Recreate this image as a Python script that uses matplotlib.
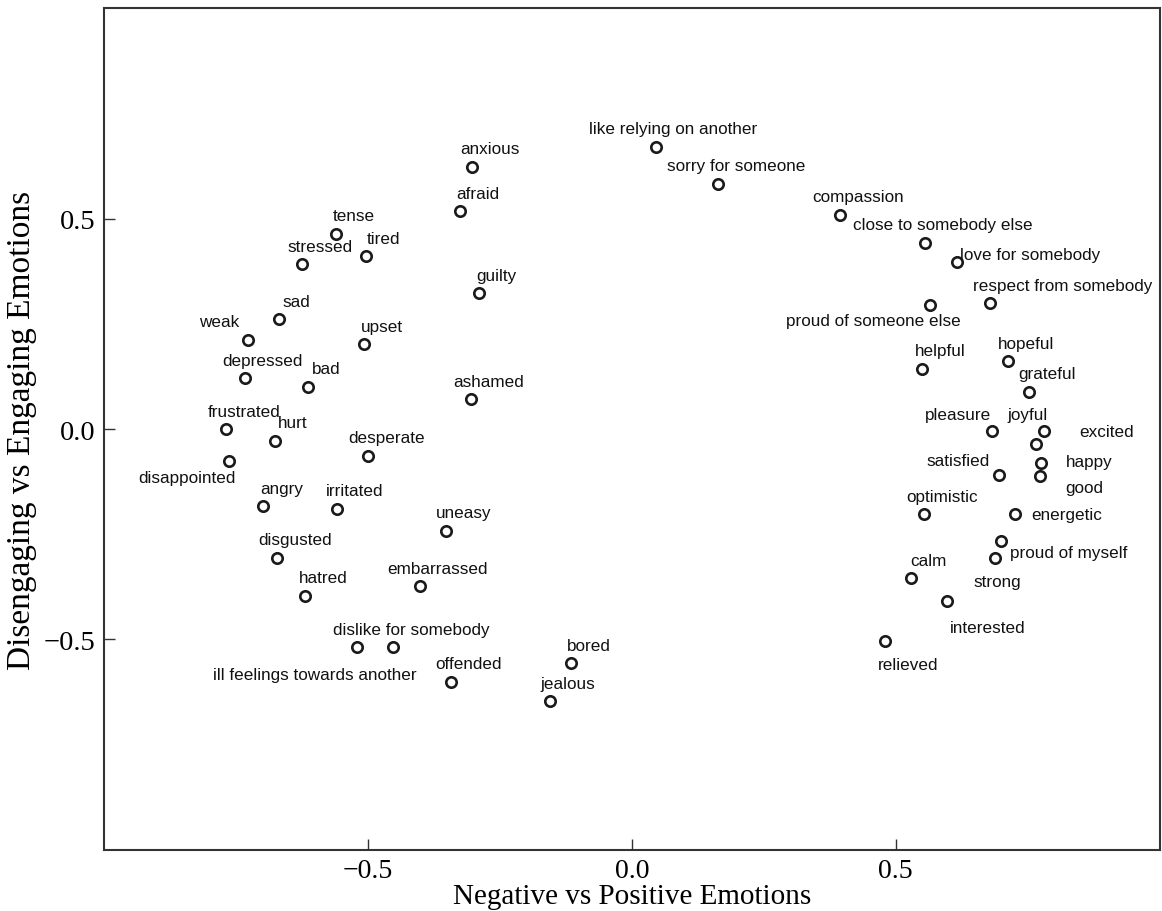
import matplotlib.pyplot as plt

emotions = [
    "anxious", "afraid", "tense", "tired", "stressed", "guilty", "sad", "weak",
    "upset", "depressed", "bad", "ashamed", "frustrated", "hurt", "disappointed",
    "desperate", "angry", "irritated", "uneasy", "disgusted", "hatred",
    "embarrassed", "ill feelings towards another", "dislike for somebody",
    "offended", "bored", "jealous", "like relying on another", "sorry for someone",
    "compassion", "close to somebody else", "love for somebody",
    "respect from somebody", "proud of someone else", "helpful", "hopeful",
    "grateful", "pleasure", "joyful", "excited", "happy", "good", "satisfied",
    "optimistic", "energetic", "proud of myself", "strong", "calm", "interested",
    "relieved",
]

# negative (-) vs positive (+)
valence = [
    -0.303, -0.326, -0.561, -0.504, -0.625, -0.290, -0.669, -0.727,
    -0.508, -0.733, -0.614, -0.305, -0.768, -0.676, -0.764,
    -0.499, -0.698, -0.559, -0.352, -0.672, -0.619,
    -0.402, -0.520, -0.452,
    -0.343, -0.116, -0.155, 0.045, 0.163,
    0.394, 0.555, 0.616,
    0.679, 0.565, 0.550, 0.712,
    0.752, 0.683, 0.780, 0.765, 0.775, 0.773, 0.695,
    0.553, 0.725, 0.700, 0.688, 0.528, 0.598,
    0.480,
]

# disengaging (-) vs engaging (+)
engagement = [
    0.623, 0.517, 0.464, 0.410, 0.391, 0.322, 0.261, 0.211,
    0.201, 0.121, 0.100, 0.071, 0.000, -0.028, -0.075,
    -0.064, -0.184, -0.189, -0.242, -0.306, -0.396,
    -0.373, -0.518, -0.518,
    -0.600, -0.557, -0.647, 0.671, 0.583,
    0.509, 0.443, 0.396,
    0.300, 0.294, 0.143, 0.161,
    0.088, -0.005, -0.005, -0.036, -0.081, -0.111, -0.109,
    -0.203, -0.201, -0.265, -0.306, -0.355, -0.409,
    -0.504,
]

# label placement (pixels from the point); everything else sits up-right
default_offset = (18, 18)
label_offsets = {
    "weak": (-29, 19),
    "disappointed": (-42, -17),
    "ill feelings towards another": (-43, -27),
    "love for somebody": (73, 8),
    "respect from somebody": (72, 17),
    "proud of someone else": (-57, -15),
    "pleasure": (-34, 17),
    "joyful": (-16, 17),
    "excited": (71, 13),
    "happy": (48, 2),
    "good": (44, -12),
    "satisfied": (-41, 14),
    "energetic": (52, -1),
    "proud of myself": (67, -12),
    "strong": (2, -24),
    "interested": (40, -26),
    "relieved": (23, -23),
}

fig = plt.figure(figsize=(11.62, 9.12), dpi=100)
ax = fig.add_axes([0.0895, 0.0669, 0.9085, 0.9232])

ax.plot(valence, engagement, "o", markersize=7.5, markerfacecolor="white",
        markeredgecolor="#1a1a1a", markeredgewidth=1.9, linestyle="none")

for name, x, y in zip(emotions, valence, engagement):
    dx, dy = label_offsets.get(name, default_offset)
    ax.annotate(name, (x, y), xytext=(dx, dy), textcoords="offset pixels",
                ha="center", va="center", fontsize=12.3,
                family="Liberation Sans", color="#111111")

ax.set_xlim(-1, 1)
ax.set_ylim(-1, 1)
ax.set_xticks([-0.5, 0.0, 0.5])
ax.set_yticks([-0.5, 0.0, 0.5])
ax.set_xticklabels(["\u22120.5", "0.0", "0.5"], family="Liberation Serif", fontsize=20)
ax.set_yticklabels(["\u22120.5", "0.0", "0.5"], family="Liberation Serif", fontsize=20.5)
ax.tick_params(direction="in", length=8, width=1, color="#333333", pad=6)

for s in ax.spines.values():
    s.set_linewidth(1.5)
    s.set_color("#333333")

ax.set_xlabel("Negative vs Positive Emotions", family="Liberation Serif",
              fontsize=21, labelpad=0)
ax.set_ylabel("Disengaging vs Engaging Emotions", family="Liberation Serif",
              fontsize=24, labelpad=5)

fig.savefig("out.png", dpi=100)
